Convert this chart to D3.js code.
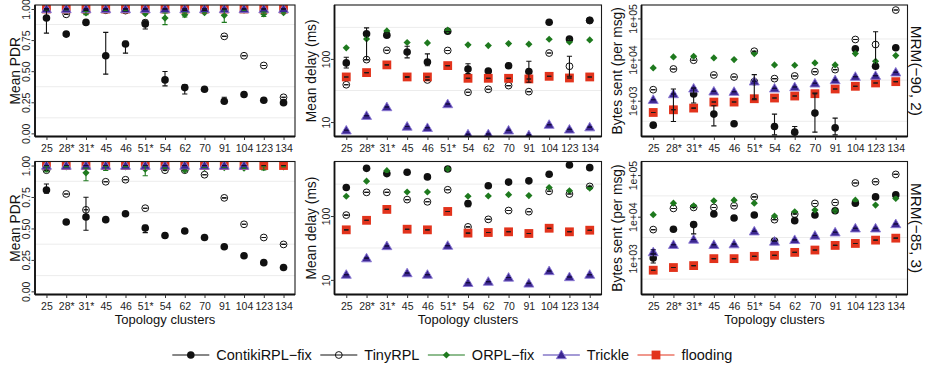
<!DOCTYPE html>
<html>
<head>
<meta charset="utf-8">
<script src="https://cdn.jsdelivr.net/npm/d3@7"></script>
<style>
  body { margin: 0; background: #fff; }
  svg { display: block; }
  text { font-family: "Liberation Sans", Arial, Helvetica, sans-serif; }
</style>
</head>
<body>
<svg id="chart" width="931" height="370"></svg>
<script>
// ---- categories, series and axis labels ----
const categories = ["25", "28*", "31*", "45", "46", "51*", "54", "62", "70", "91", "104", "123", "134"];
const seriesNames = ["ContikiRPL\u2212fix", "TinyRPL", "ORPL\u2212fix", "Trickle", "flooding"];
const rowLabels = ["MRM(\u221290, 2)", "MRM(\u221285, 3)"];
const metricTitles = ["Mean PDR", "Mean delay (ms)", "Bytes sent (per msg)"];
const xTitle = "Topology clusters";

const pdrTicks = [0, 0.25, 0.5, 0.75, 1];
const pdrTickLabels = ["0.00", "0.25", "0.50", "0.75", "1.00"];
const pdrMinor = [0.125, 0.375, 0.625, 0.875];
const delayTicks = [10, 100];
const delayTickLabels = ["10", "100"];
const delayMinor = [31.62, 316.2];
const bytesTicks = [1e3, 1e4, 1e5];
const bytesTickLabels = ["1e+03", "1e+04", "1e+05"];
const bytesMinor = [316.2, 3162, 31623];

// ---- MRM(-90, 2): mean PDR ----
const pdr90Contiki  = [0.927, 0.798, 0.892, 0.624, 0.718, 0.879, 0.430, 0.368, 0.355, 0.258, 0.312, 0.266, 0.247];
const pdr90Tiny     = [1.000, 0.957, 0.990, 0.990, 0.987, 0.890, 1.000, 0.990, 0.990, 0.780, 0.624, 0.546, 0.290];
const pdr90Orpl     = [0.995, 0.995, 0.968, 0.990, 0.990, 0.962, 0.927, 0.954, 0.970, 0.949, 0.990, 0.960, 0.970];
const pdr90Trickle  = [1, 1, 1, 1, 1, 1, 1, 1, 1, 1, 1, 1, 1];
const pdr90Flooding = [1, 1, 1, 1, 1, 1, 1, 1, 1, 1, 1, 1, 1];
// error bars: [series, category, low, high]
const pdr90Err = [
  [0, "25", 0.806, 0.99], [0, "45", 0.476, 0.812], [0, "46", 0.645, 0.74], [0, "51*", 0.839, 0.909],
  [0, "54", 0.382, 0.497], [0, "62", 0.317, 0.39], [0, "91", 0.242, 0.29],
  [2, "31*", 0.955, 0.98], [2, "54", 0.874, 0.968], [2, "62", 0.935, 0.97], [2, "91", 0.892, 0.995], [2, "123", 0.94, 0.975]
];

// ---- MRM(-90, 2): mean delay (ms) ----
const delay90Contiki  = [86.5, 250, 238, 129, 89.5, 275, 69, 64.5, 78, 63, 382, 207, 411];
const delay90Tiny     = [39, 97.5, 137, 52, 46.4, 136, 29.6, 33, 37.8, 30.3, 124, 76.5, 405];
const delay90Orpl     = [150, 207, 278, 182, 179, 285, 167, 163, 175, 171, 205, 186, 200];
const delay90Trickle  = [7.4, 12.6, 17.3, 8.5, 8.1, 19.3, 6.4, 6.45, 7.4, 6.2, 9.1, 7.65, 8.3];
const delay90Flooding = [51.8, 60.7, 80.4, 51.8, 51.8, 78.4, 49.3, 49.3, 49.3, 48.2, 53, 49.9, 51.8];
const delay90Err = [
  [0, "25", 72, 106], [0, "28*", 97.5, 310], [0, "31*", 220, 260], [0, "45", 104, 159], [0, "46", 78, 120],
  [0, "54", 58.5, 84], [0, "70", 72, 85], [0, "91", 42.7, 92], [0, "123", 195, 218],
  [1, "123", 53, 110]
];

// ---- MRM(-90, 2): bytes sent per message ----
const bytes90Contiki  = [255, 610, 1455, 473, 275, 2900, 237, 172, 500, 219, 18200, 6870, 19300];
const bytes90Tiny     = [1853, 5910, 9640, 4225, 3775, 15960, 3440, 3996, 5090, 5700, 30760, 23200, 159700];
const bytes90Orpl     = [6270, 11600, 12060, 10970, 10000, 14000, 7410, 7270, 8300, 7410, 14000, 9100, 12530];
const bytes90Trickle  = [1058, 1455, 2000, 1690, 1660, 2963, 2000, 2153, 2650, 3190, 3846, 4070, 4910];
const bytes90Flooding = [518, 602, 662, 927, 927, 1118, 1162, 1300, 1482, 1927, 2240, 2700, 2905];
const bytes90Err = [
  [0, "28*", 313, 1928], [0, "31*", 877, 2036], [0, "45", 245, 755], [0, "51*", 1058, 4305],
  [0, "54", 148, 473], [0, "62", 135, 237], [0, "70", 172, 1539], [0, "91", 148, 378],
  [1, "123", 6300, 47300]
];

// ---- MRM(-85, 3): mean PDR ----
const pdr85Contiki  = [0.806, 0.551, 0.591, 0.570, 0.617, 0.504, 0.444, 0.480, 0.428, 0.354, 0.283, 0.228, 0.189];
const pdr85Tiny     = [0.963, 0.774, 0.648, 0.871, 0.887, 0.661, 0.963, 0.963, 0.927, 0.743, 0.533, 0.428, 0.373];
const pdr85Orpl     = [0.971, 0.990, 0.942, 0.990, 0.990, 0.971, 0.979, 0.963, 0.984, 0.984, 0.979, 0.984, 0.990];
const pdr85Trickle  = [1, 1, 1, 1, 1, 1, 1, 1, 1, 1, 1, null, null];
const pdr85Flooding = [1, 1, 1, 1, 1, 1, 1, 1, 1, 1, 1, 1, 1];
const pdr85Err = [
  [0, "25", 0.78, 0.853], [0, "31*", 0.486, 0.748], [0, "51*", 0.467, 0.525], [0, "62", 0.46, 0.49],
  [2, "25", 0.95, 0.99], [2, "31*", 0.879, 0.979], [2, "45", 0.96, 0.995], [2, "51*", 0.919, 0.997], [2, "123", 0.965, 0.99]
];

// ---- MRM(-85, 3): mean delay (ms) ----
const delay85Contiki  = [280, 558, 462, 485, 410, 546, 157, 298, 340, 356, 452, 630, 573];
const delay85Tiny     = [103.5, 235, 235, 181, 167, 258, 67.6, 88.7, 122, 117, 244, 221, 291];
const delay85Orpl     = [204, 352, 514, 238, 238, 546, 204, 206, 216, 209, 280, 249, 274];
const delay85Trickle  = [12.1, 21.9, 34, 12.8, 12.1, 34.4, 9.0, 9.4, 10.9, 8.8, 13.8, 11.1, 12.1];
const delay85Flooding = [60.8, 85.7, 127, 62.2, 60.8, 118, 54, 55.2, 56.6, 53.3, 64.4, 56.6, 60];
const delay85Err = [
  [0, "54", 140, 170]
];

// ---- MRM(-85, 3): bytes sent per message ----
const bytes85Contiki  = [1018, 4990, 6460, 11570, 9290, 10970, 2590, 8040, 10970, 13900, 21140, 29900, 33400];
const bytes85Tiny     = [4900, 15800, 16700, 16700, 18270, 29900, 8490, 11570, 20750, 21930, 64500, 69300, 103700];
const bytes85Orpl     = [11170, 21140, 18270, 24040, 24950, 21140, 10370, 13150, 14420, 13900, 24950, 18970, 27350];
const bytes85Trickle  = [1415, 2115, 2830, 2115, 2190, 4475, 2540, 2780, 3530, 4235, 5270, 5270, 6680];
const bytes85Flooding = [518, 600, 668, 982, 982, 1116, 1179, 1389, 1580, 2040, 2276, 2735, 3050];
const bytes85Err = [
  [0, "25", 774, 1291], [0, "31*", 3865, 7330], [3, "25", 1250, 1600]
];

// ---- assemble panels (rows = radio model, columns = metric) ----
const panels = [
  [
    { series: [pdr90Contiki, pdr90Tiny, pdr90Orpl, pdr90Trickle, pdr90Flooding], errs: pdr90Err },
    { series: [delay90Contiki, delay90Tiny, delay90Orpl, delay90Trickle, delay90Flooding], errs: delay90Err },
    { series: [bytes90Contiki, bytes90Tiny, bytes90Orpl, bytes90Trickle, bytes90Flooding], errs: bytes90Err }
  ],
  [
    { series: [pdr85Contiki, pdr85Tiny, pdr85Orpl, pdr85Trickle, pdr85Flooding], errs: pdr85Err },
    { series: [delay85Contiki, delay85Tiny, delay85Orpl, delay85Trickle, delay85Flooding], errs: delay85Err },
    { series: [bytes85Contiki, bytes85Tiny, bytes85Orpl, bytes85Trickle, bytes85Flooding], errs: bytes85Err }
  ]
];

const metrics = [
  { type: "linear", domain: [-0.025, 1.032], ticks: pdrTicks, labels: pdrTickLabels, minor: pdrMinor },
  { type: "log", domain: [5.9, 715], ticks: delayTicks, labels: delayTickLabels, minor: delayMinor },
  { type: "log", domain: [135, 212000], ticks: bytesTicks, labels: bytesTickLabels, minor: bytesMinor }
];

// ---- layout ----
const W = 931, H = 370;
const cols = [{ x0: 35, x1: 295, title: 20 }, { x0: 334.5, x1: 601.5, title: 316 }, { x0: 641.5, x1: 907.5, title: 622 }];
const rows = [{ y0: 5, y1: 136.5 }, { y0: 161.5, y1: 294.5 }];

const styles = [
  { kind: "dot",      fill: "#111111", line: "#111111", err: "#111111" },
  { kind: "ring",     fill: "none",    line: "#111111", err: "#111111" },
  { kind: "diamond",  fill: "#1f7a1f", line: "#1f7a1f", err: "#1f7a1f" },
  { kind: "triangle", fill: "#3b2690", line: "#4b36ad", err: "#150c3c" },
  { kind: "square",   fill: "#e2331c", line: "#e2331c", err: "#1a1a1a" }
];
const drawOrder = [0, 1, 2, 4, 3];

const svg = d3.select("#chart");
svg.append("rect").attr("width", W).attr("height", H).attr("fill", "#ffffff");
const defs = svg.append("defs");

function drawMarker(g, kind, x, y, st) {
  switch (kind) {
    case "dot":
      g.append("circle").attr("cx", x).attr("cy", y).attr("r", 3.8).attr("fill", st.fill);
      break;
    case "ring":
      g.append("circle").attr("cx", x).attr("cy", y).attr("r", 3.4)
        .attr("fill", "none").attr("stroke", st.line).attr("stroke-width", 1);
      break;
    case "diamond":
      g.append("path").attr("d", `M${x},${y - 3.6}L${x + 3.6},${y}L${x},${y + 3.6}L${x - 3.6},${y}Z`)
        .attr("fill", st.fill);
      break;
    case "triangle":
      g.append("path").attr("d", `M${x},${y - 4.9}L${x + 5},${y + 3.7}L${x - 5},${y + 3.7}Z`)
        .attr("fill", st.fill).attr("stroke", "#8c7bd6").attr("stroke-width", 0.9);
      break;
    case "square":
      g.append("rect").attr("x", x - 4.4).attr("y", y - 4.4).attr("width", 8.8).attr("height", 8.8)
        .attr("fill", st.fill);
      break;
  }
}

function drawErr(g, x, ylo, yhi, color, half) {
  if (Math.abs(ylo - yhi) > 0.5) {
    g.append("line").attr("x1", x).attr("x2", x).attr("y1", ylo).attr("y2", yhi)
      .attr("stroke", color).attr("stroke-width", 1.1);
  }
  [ylo, yhi].forEach(yy => g.append("line").attr("x1", x - half).attr("x2", x + half)
    .attr("y1", yy).attr("y2", yy).attr("stroke", color).attr("stroke-width", 1.1));
}

rows.forEach((r, ri) => {
  cols.forEach((c, ci) => {
    const m = metrics[ci];
    const pd = panels[ri][ci];
    const x = d3.scalePoint().domain(categories).range([c.x0, c.x1]).padding(0.58);
    const y = (m.type === "log" ? d3.scaleLog() : d3.scaleLinear()).domain(m.domain).range([r.y1, r.y0]);

    const g = svg.append("g");
    const clipId = `clip-${ri}-${ci}`;
    defs.append("clipPath").attr("id", clipId).append("rect")
      .attr("x", c.x0).attr("y", r.y0).attr("width", c.x1 - c.x0).attr("height", r.y1 - r.y0);

    // faint minor grid
    g.append("g").selectAll("line").data(m.minor).join("line")
      .attr("x1", c.x0).attr("x2", c.x1).attr("y1", d => y(d)).attr("y2", d => y(d))
      .attr("stroke", "#ececec").attr("stroke-width", 1);

    const plot = g.append("g").attr("clip-path", `url(#${clipId})`);

    // points
    drawOrder.forEach(si => {
      pd.series[si].forEach((v, k) => {
        if (v == null) return;
        drawMarker(plot, styles[si].kind, x(categories[k]), y(v), styles[si]);
      });
    });

    // error bars (explicit ranges, otherwise a small dash at the mean)
    const errKey = new Map(pd.errs.map(e => [e[0] + "|" + e[1], e]));
    drawOrder.forEach(si => {
      pd.series[si].forEach((v, k) => {
        if (v == null) return;
        const cat = categories[k];
        const e = errKey.get(si + "|" + cat);
        const px = x(cat);
        if (e) drawErr(plot, px, y(e[2]), y(e[3]), styles[si].err, 2.6);
        else drawErr(plot, px, y(v), y(v), styles[si].err, 2.2);
      });
    });

    // panel frame
    g.append("rect").attr("x", c.x0).attr("y", r.y0).attr("width", c.x1 - c.x0).attr("height", r.y1 - r.y0)
      .attr("fill", "none").attr("stroke", "#1a1a1a").attr("stroke-width", 1.1);
    g.append("line").attr("x1", c.x0).attr("x2", c.x0).attr("y1", r.y0).attr("y2", r.y1)
      .attr("stroke", "#111").attr("stroke-width", 1.8);
    g.append("line").attr("x1", c.x0).attr("x2", c.x1).attr("y1", r.y1).attr("y2", r.y1)
      .attr("stroke", "#111").attr("stroke-width", 1.8);

    // x axis
    const gx = g.append("g").attr("transform", `translate(0,${r.y1})`)
      .call(d3.axisBottom(x).tickSize(3.5).tickPadding(5));
    gx.select(".domain").remove();
    gx.selectAll(".tick line").attr("stroke", "#333");
    gx.selectAll(".tick text").attr("font-size", 10.5).attr("fill", "#1e1e1e")
      .attr("font-family", "'Liberation Sans', Arial, sans-serif");

    // y axis with rotated tick labels
    const gy = g.append("g").attr("transform", `translate(${c.x0},0)`)
      .call(d3.axisLeft(y).tickValues(m.ticks).tickFormat((d, i) => m.labels[i]).tickSize(3.5));
    gy.select(".domain").remove();
    gy.selectAll(".tick line").attr("stroke", "#333");
    gy.selectAll(".tick text")
      .attr("x", 0).attr("dy", 0)
      .attr("transform", "translate(-5,0) rotate(-90)")
      .attr("text-anchor", "middle")
      .attr("font-size", 10.5).attr("fill", "#1e1e1e")
      .attr("font-family", "'Liberation Sans', Arial, sans-serif");

    // y title
    g.append("text")
      .attr("transform", `translate(${c.title},${(r.y0 + r.y1) / 2}) rotate(-90)`)
      .attr("text-anchor", "middle").attr("font-size", 13.8).attr("fill", "#111")
      .text(metricTitles[ci]);

    // x title under the bottom row
    if (ri === rows.length - 1) {
      g.append("text").attr("x", (c.x0 + c.x1) / 2).attr("y", 324)
        .attr("text-anchor", "middle").attr("font-size", 13).attr("fill", "#111")
        .text(xTitle);
    }
  });

  // row strip label on the right
  svg.append("text")
    .attr("transform", `translate(910.5,${(r.y0 + r.y1) / 2}) rotate(90)`)
    .attr("text-anchor", "middle").attr("font-size", 15.4).attr("fill", "#111")
    .text(rowLabels[ri]);
});

// ---- legend ----
const legend = svg.append("g");
const legendY = 355;
let lx = 0;
const items = [];
seriesNames.forEach((name, si) => {
  const it = legend.append("g");
  it.append("line").attr("x1", 0).attr("x2", 37).attr("y1", 0).attr("y2", 0)
    .attr("stroke", styles[si].line).attr("stroke-width", 1.1);
  drawMarker(it, styles[si].kind, 18.5, 0, styles[si]);
  const t = it.append("text").attr("x", 44).attr("y", 5).attr("font-size", 14.5).attr("fill", "#111").text(name);
  const w = 44 + t.node().getComputedTextLength();
  items.push({ it, x: lx });
  lx += w + 8.5;
});
const totalW = lx - 8.5;
const startX = 452.3 - totalW / 2;
items.forEach(d => d.it.attr("transform", `translate(${startX + d.x},${legendY})`));
</script>
</body>
</html>
